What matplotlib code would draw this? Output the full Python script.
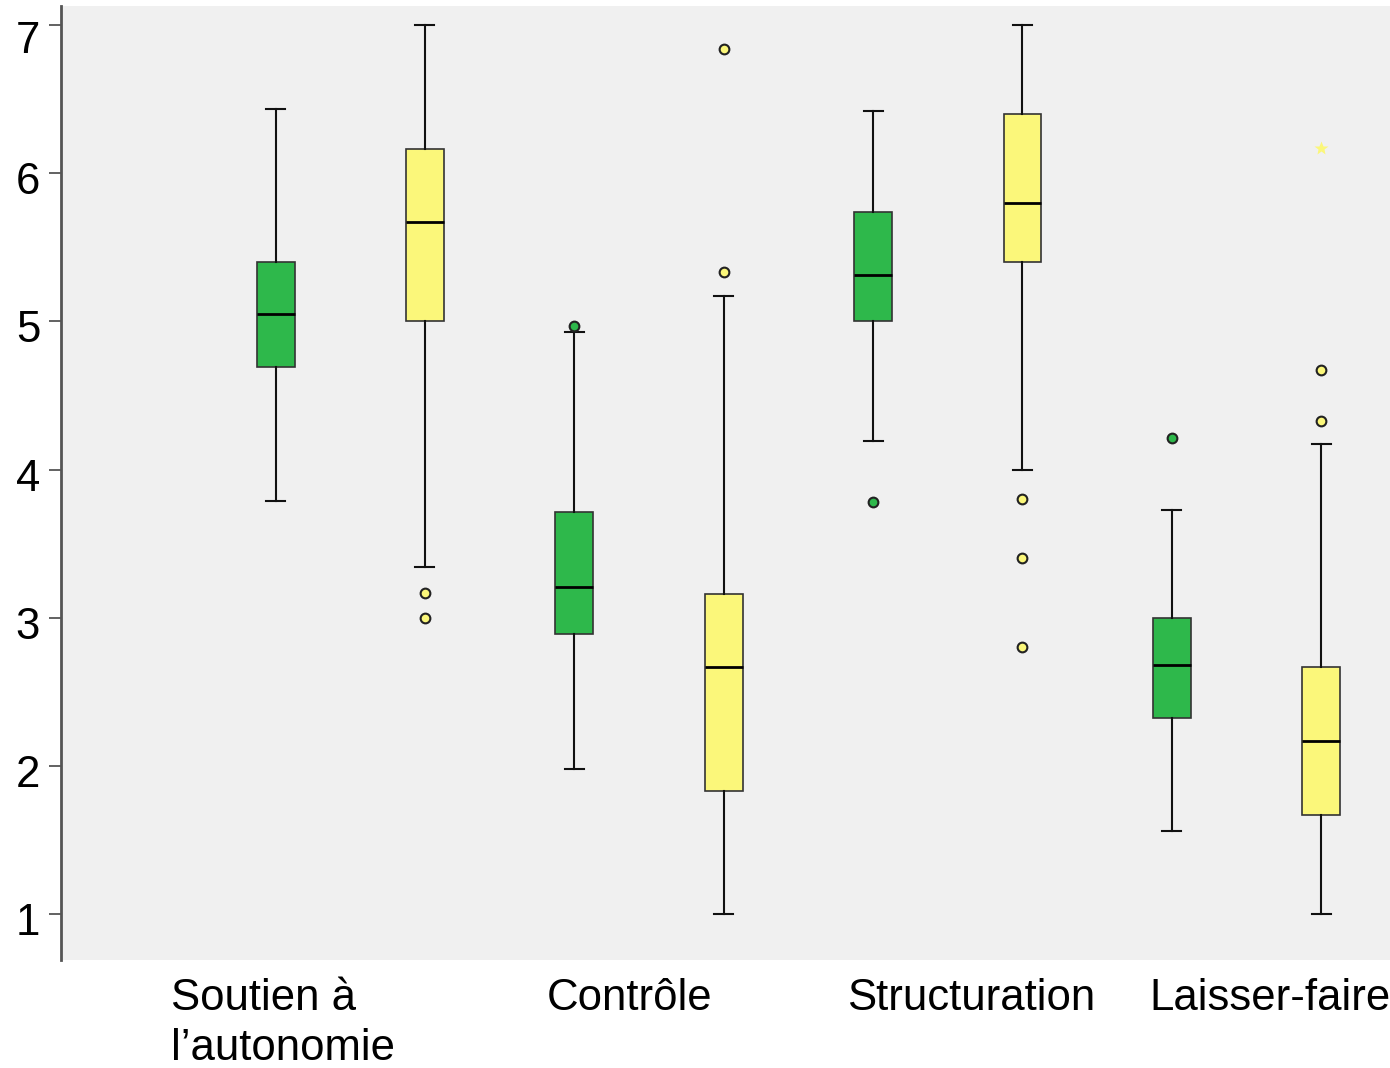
import matplotlib
matplotlib.use("Agg")
import matplotlib.pyplot as plt
from matplotlib.transforms import ScaledTranslation

# box statistics, order: green/yellow per dimension
categories = ["Soutien à\nl’autonomie", "Contrôle", "Structuration", "Laisser-faire"]
groups = ["green", "yellow"] * 4
whislo = [3.79, 3.34, 1.98, 1.00, 4.19, 4.00, 1.56, 1.00]
q1 = [4.69, 5.00, 2.89, 1.83, 5.00, 5.40, 2.32, 1.67]
med = [5.05, 5.67, 3.21, 2.67, 5.31, 5.80, 2.68, 2.17]
q3 = [5.40, 6.16, 3.71, 3.16, 5.74, 6.40, 3.00, 2.67]
whishi = [6.43, 7.00, 4.93, 5.17, 6.42, 7.00, 3.73, 4.17]
fliers = [[], [3.17, 3.00], [4.97], [6.84, 5.33], [3.78], [3.80, 3.40, 2.80], [4.21], [4.67, 4.33]]
extremes = [[], [], [], [], [], [], [], [6.17]]   # drawn as stars

colors = {"green": "#2eb84b", "yellow": "#fbf77a"}

fig = plt.figure(figsize=(13.9, 10.68), dpi=100)
ax = fig.add_axes([61 / 1390, 1 - 960 / 1068, 1 - 61 / 1390, (960 - 6) / 1068])
ax.set_facecolor("#f0f0f0")

positions = list(range(1, 9))
stats = []
for i in range(8):
    stats.append(dict(whislo=whislo[i], q1=q1[i], med=med[i], q3=q3[i],
                      whishi=whishi[i], fliers=[]))

bp = ax.bxp(stats, positions=positions, widths=0.254, patch_artist=True,
            showfliers=False,
            boxprops=dict(edgecolor="#333333", linewidth=1.2),
            medianprops=dict(color="black", linewidth=2),
            whiskerprops=dict(color="#111111", linewidth=1.5),
            capprops=dict(color="#111111", linewidth=1.5))
for patch, g in zip(bp["boxes"], groups):
    patch.set_facecolor(colors[g])

for pos, g, fl, ex in zip(positions, groups, fliers, extremes):
    if fl:
        ax.plot([pos] * len(fl), fl, "o", ms=7, mfc=colors[g], mec="#222222", mew=1.5, zorder=4)
    if ex:
        ax.plot([pos] * len(ex), ex, "*", ms=10, color=colors[g], mec="none", zorder=4)

ax.set_xlim(-0.436, 8.46)
ax.set_ylim(0.69, 7.128)
ax.set_yticks(range(1, 8))
ax.tick_params(axis="y", labelsize=31.5, length=9, width=1.3, color="#555555", pad=6)
for lab in ax.get_yticklabels():
    lab.set_fontfamily("Liberation Sans")
    # labels sit a little below their ticks in the original
    dy = -12 if lab.get_text() == "7" else -5
    lab.set_transform(lab.get_transform() + ScaledTranslation(0, dy / 100, fig.dpi_scale_trans))

ax.set_xticks([1.047, 3.373, 5.655, 7.657])
ax.set_xticklabels(categories, fontsize=31.5, fontfamily="Liberation Sans")
ax.tick_params(axis="x", length=0, pad=13)
ax.get_xticklabels()[0].set_multialignment("left")
ax.get_xticklabels()[0].set_linespacing(1.27)

for s in ["top", "right", "bottom"]:
    ax.spines[s].set_visible(False)
ax.spines["left"].set_color("#555555")
ax.spines["left"].set_linewidth(2)

fig.savefig("out.png", dpi=100)
